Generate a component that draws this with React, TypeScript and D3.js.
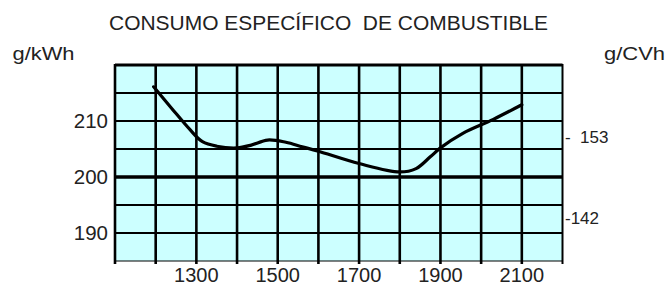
import React from "react";
import * as d3 from "d3";

// engine speed (rpm) and specific fuel consumption (g/kWh)
const rpm = [1195, 1240, 1285, 1315, 1350, 1400, 1435, 1475, 1520, 1560, 1600, 1700, 1800, 1840, 1875, 1900, 1955, 2030, 2100];
const consumo = [216.1, 212.2, 208.4, 206.3, 205.5, 205.2, 205.7, 206.6, 206.2, 205.4, 204.6, 202.4, 200.9, 201.5, 203.6, 205.2, 207.8, 210.3, 212.9];

const xGrid = d3.range(1100, 2201, 100);
const xLabels = [1300, 1500, 1700, 1900, 2100];
const yGrid = d3.range(185, 221, 5);
const yLabels = [190, 200, 210];
const cvLabels = [153, 142];

const W = 667;
const H = 286;
const left = 115;
const right = 562.5;
const top = 65;
const bottom = 261;

const App: React.FC = () => {
  const x = d3.scaleLinear().domain([1100, 2200]).range([left, right]);
  const y = d3.scaleLinear().domain([185, 220]).range([bottom, top]);
  const yCV = d3.scaleLinear().domain([136.2, 162.7]).range([bottom, top]);

  const line = d3
    .line<number>()
    .x((_, i) => x(rpm[i]))
    .y((d) => y(d))
    .curve(d3.curveCatmullRom.alpha(0.5));

  const font = "'Liberation Sans', Arial, sans-serif";

  return (
    <svg width={W} height={H} style={{ position: "absolute", left: 0, top: 0 }} fontFamily={font}>
      <rect x={0} y={0} width={W} height={H} fill="#fff" />
      <text x={109} y={30} fontSize={19.5} fill="#222" xmlSpace="preserve" textLength={439} lengthAdjust="spacingAndGlyphs">
        CONSUMO ESPECÍFICO  DE COMBUSTIBLE
      </text>
      <text x={12.5} y={60} fontSize={18.5} fill="#222" textLength={62} lengthAdjust="spacingAndGlyphs">g/kWh</text>
      <text x={604} y={60} fontSize={18.5} fill="#222" textLength={61} lengthAdjust="spacingAndGlyphs">g/CVh</text>

      <rect x={left} y={top} width={right - left} height={bottom - top} fill="#ccffff" />

      {yGrid.map((v) => (
        <line
          key={"h" + v}
          x1={left}
          x2={right}
          y1={y(v)}
          y2={y(v)}
          stroke="#000"
          strokeWidth={v === 200 ? 3.5 : v === 220 ? 3 : v === 185 ? 1.2 : 2}
        />
      ))}
      {xGrid.map((v) => (
        <line
          key={"v" + v}
          x1={x(v)}
          x2={x(v)}
          y1={top - 1}
          y2={bottom + 3}
          stroke="#000"
          strokeWidth={v === 2200 ? 2 : 2.6}
        />
      ))}

      <path d={line(consumo) ?? ""} fill="none" stroke="#000" strokeWidth={3.2} strokeLinecap="round" />

      {yLabels.map((v) => (
        <text key={"yl" + v} x={108} y={y(v)} dy="0.36em" fontSize={20.5} textAnchor="end" fill="#222">
          {v}
        </text>
      ))}
      {xLabels.map((v) => (
        <text key={"xl" + v} x={x(v)} y={282} fontSize={20} textAnchor="middle" fill="#222">
          {v}
        </text>
      ))}
      {cvLabels.map((v) => (
        <text key={"cv" + v} x={565} y={yCV(v)} dy="0.36em" fontSize={17} fill="#222" xmlSpace="preserve">
          {v === 153 ? "-  " + v : "-" + v}
        </text>
      ))}
    </svg>
  );
};

export default App;
